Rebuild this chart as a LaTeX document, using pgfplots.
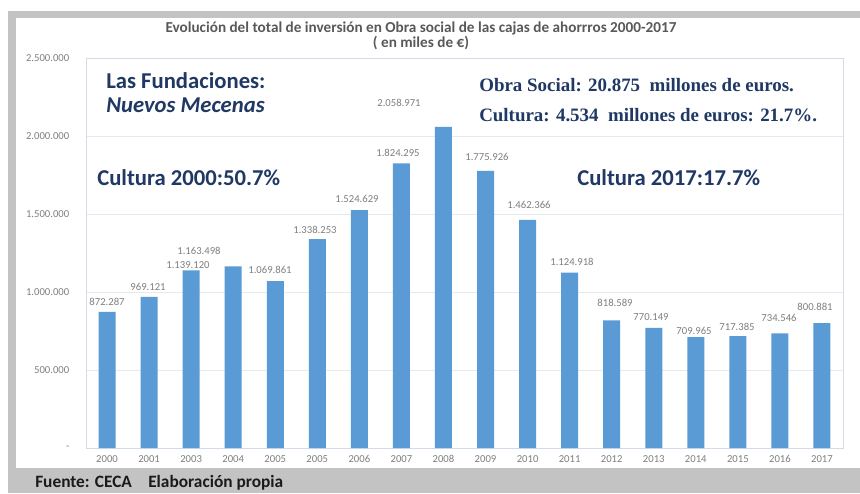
\documentclass[border=0pt]{standalone}
\usepackage{pgfplots}
\pgfplotsset{compat=1.18}
\usepackage{fontspec}
\setmainfont{Carlito}
\newfontfamily\timesb{Liberation Serif}
\definecolor{barblue}{HTML}{5B9BD5}
\definecolor{navy}{HTML}{1F3864}
\definecolor{framegray}{HTML}{C3C3C3}
\definecolor{ticklab}{HTML}{7F7F7F}
\definecolor{titlegray}{HTML}{595959}
\definecolor{axisframe}{HTML}{D3DCE6}
\definecolor{gridc}{HTML}{E6E9EE}
\definecolor{footc}{HTML}{1A1A1A}
\begin{document}
\begin{tikzpicture}[x=0.75pt,y=0.75pt]
\path[use as bounding box, fill=white] (0,0) rectangle (860,493);
\fill[framegray] (8,0) rectangle (860,482);
\fill[white] (16,25) rectangle (860,475);
\begin{axis}[
  at={(64.5pt,33.75pt)}, anchor=south west,
  scale only axis, width=567.75pt, height=292.5pt,
  xmin=-0.5, xmax=17.5, ymin=0, ymax=2500000,
  ybar, bar width=12.75pt,
  axis line style={draw=axisframe},
  ymajorgrids, grid style={draw=gridc},
  major tick length=0pt,
  ytick={0,500000,1000000,1500000,2000000,2500000},
  yticklabels={-,500.000,1.000.000,1.500.000,2.000.000,2.500.000},
  xtick={0,1,2,3,4,5,6,7,8,9,10,11,12,13,14,15,16,17},
  xticklabels={2000,2001,2003,2004,2005,2005,2006,2007,2008,2009,2010,2011,2012,2013,2014,2015,2016,2017},
  ticklabel style={font=\fontsize{8}{9}\selectfont, text=ticklab},
  yticklabel style={xshift=-9pt},
  xticklabel style={yshift=-2pt},
  scaled y ticks=false,
]
\addplot[fill=barblue, draw=none] coordinates {
(0,872287) (1,969121) (2,1139120) (3,1163498) (4,1069861) (5,1338253)
(6,1524629) (7,1824295) (8,2058971) (9,1775926) (10,1462366) (11,1124918)
(12,818589) (13,770149) (14,709965) (15,717385) (16,734546) (17,800881)};
\end{axis}
% data labels
\begin{scope}[every node/.style={font=\fontsize{8}{9}\selectfont, text=ticklab, inner sep=0pt}]
\node at (107,191) {872.287};
\node at (148,206) {969.121};
\node at (188,228) {1.139.120};
\node at (199,242) {1.163.498};
\node at (270,223) {1.069.861};
\node at (315,263) {1.338.253};
\node at (357,294) {1.524.629};
\node at (398,340) {1.824.295};
\node at (399,390) {2.058.971};
\node at (487,336) {1.775.926};
\node at (529,288) {1.462.366};
\node at (572,231) {1.124.918};
\node at (615,190) {818.589};
\node at (651,176) {770.149};
\node at (694,162) {709.965};
\node at (737,166) {717.385};
\node at (779,175) {734.546};
\node at (815,186) {800.881};
\end{scope}
% title
\node[font=\bfseries\fontsize{11.4}{13}\selectfont, text=titlegray, anchor=base, inner sep=0pt] at (421,460) {Evolución del total de inversión en Obra social de las cajas de ahorrros 2000-2017};
\node[font=\bfseries\fontsize{11.4}{13}\selectfont, text=titlegray, anchor=base, inner sep=0pt] at (421,445) {( en miles de €)};
% annotations
\node[font=\bfseries\fontsize{17}{20}\selectfont, text=navy, anchor=base west, inner sep=0pt] at (106,404) {Las Fundaciones:};
\node[font=\bfseries\itshape\fontsize{17}{20}\selectfont, text=navy, anchor=base west, inner sep=0pt] at (106,380) {Nuevos Mecenas};
\node[font=\bfseries\fontsize{17}{20}\selectfont, text=navy, anchor=base west, inner sep=0pt] at (97,307) {Cultura 2000:50.7\%};
\node[font=\bfseries\fontsize{17}{20}\selectfont, text=navy, anchor=base west, inner sep=0pt] at (577,307) {Cultura 2017:17.7\%};
\node[font=\timesb\bfseries\fontsize{14.2}{17}\selectfont, text=navy, anchor=base west, inner sep=0pt] at (479,401) {Obra Social: 20.875\ \ millones de euros.};
\node[font=\timesb\bfseries\fontsize{14.2}{17}\selectfont, text=navy, anchor=base west, inner sep=0pt] at (479,371) {Cultura: 4.534\ \ millones de euros: 21.7\%.};
% footer
\node[font=\bfseries\fontsize{13}{15}\selectfont, text=footc, anchor=base west, inner sep=0pt] at (35,6) {Fuente: CECA};
\node[font=\bfseries\fontsize{13}{15}\selectfont, text=footc, anchor=base west, inner sep=0pt] at (148,6) {Elaboración propia};
\end{tikzpicture}
\end{document}
